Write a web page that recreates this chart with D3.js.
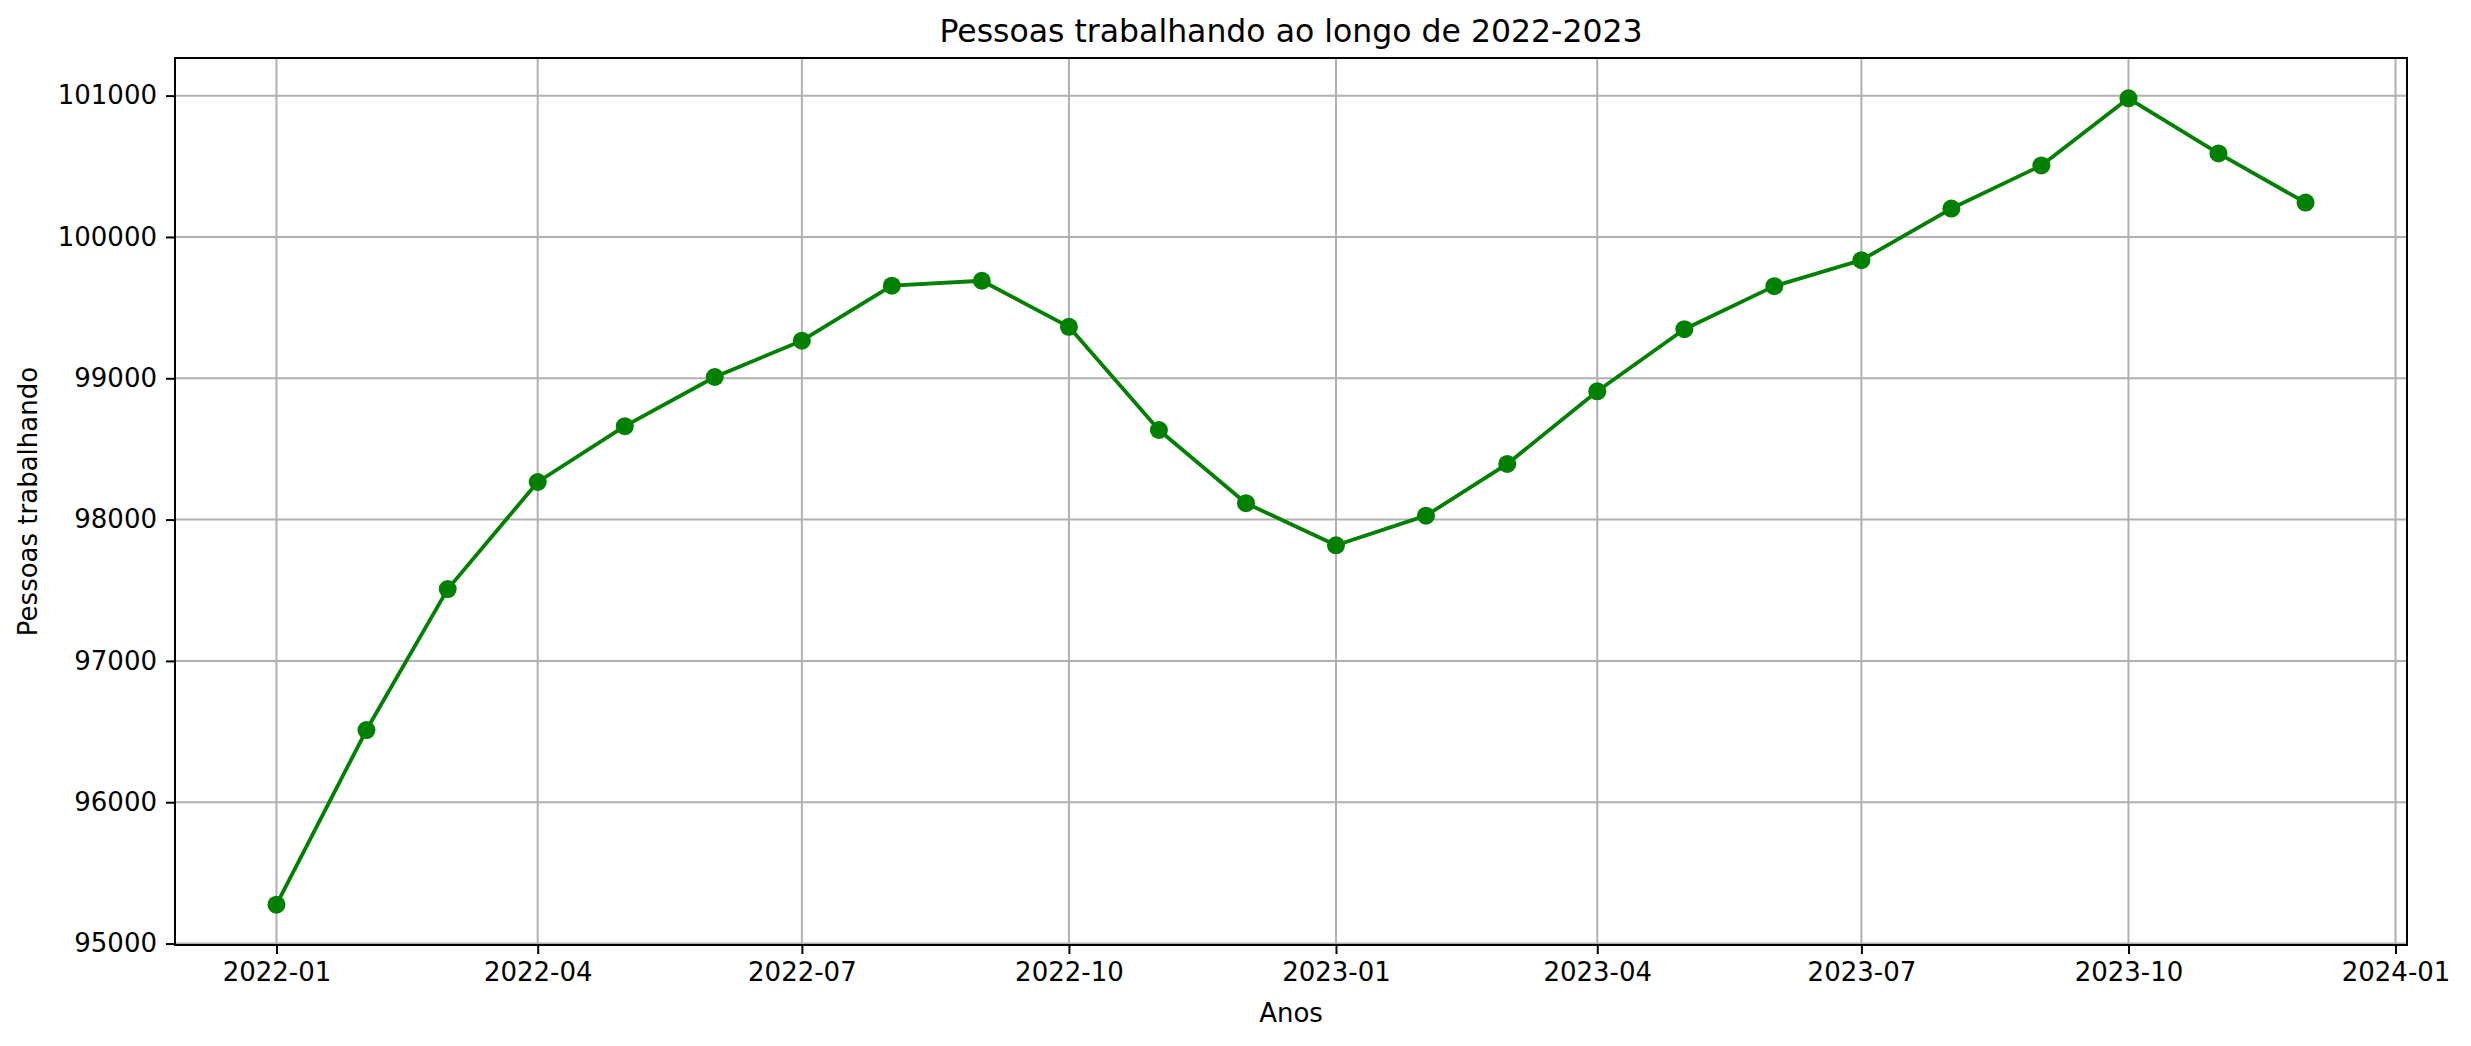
<!DOCTYPE html>
<meta charset="utf-8">
<html>
    <head>
        <style type="text/css">
            body { margin:0; background:#fff; }
            svg { display:block; }
            text { font-family: "DejaVu Sans", sans-serif; fill: #000; }
        </style>
        <script src="https://d3js.org/d3.v7.min.js"></script>
    </head>
    <body>
        <svg></svg>
        <script type="text/javascript">
            var months = ["2022-01", "2022-02", "2022-03", "2022-04", "2022-05", "2022-06",
                          "2022-07", "2022-08", "2022-09", "2022-10", "2022-11", "2022-12",
                          "2023-01", "2023-02", "2023-03", "2023-04", "2023-05", "2023-06",
                          "2023-07", "2023-08", "2023-09", "2023-10", "2023-11", "2023-12"];
            var workers = [95275, 96511, 97508, 98266, 98661, 99009,
                           99266, 99655, 99690, 99364, 98634, 98116,
                           97818, 98028, 98394, 98908, 99347, 99652,
                           99836, 100201, 100506, 100981, 100591, 100243];
            var xTicks = ["2022-01", "2022-04", "2022-07", "2022-10", "2023-01",
                          "2023-04", "2023-07", "2023-10", "2024-01"];
            var yTicks = [95000, 96000, 97000, 98000, 99000, 100000, 101000];

            var titleText = "Pessoas trabalhando ao longo de 2022-2023";
            var xLabel = "Anos";
            var yLabel = "Pessoas trabalhando";

            var width = 2471;
            var height = 1046;
            var margin = {top: 58, bottom: 101, left: 175, right: 64};

            var parseMonth = d3.timeParse("%Y-%m");
            var data = months.map((m, i) => ({date: parseMonth(m), value: workers[i]}));

            // matplotlib style 5% margins around the data
            var xExt = d3.extent(data, d => d.date);
            var xPad = (xExt[1] - xExt[0]) * 0.05;
            var yExt = d3.extent(data, d => d.value);
            var yPad = (yExt[1] - yExt[0]) * 0.05;

            var xScale = d3.scaleTime()
                .domain([new Date(+xExt[0] - xPad), new Date(+xExt[1] + xPad)])
                .range([margin.left, width - margin.right]);

            var yScale = d3.scaleLinear()
                .domain([yExt[0] - yPad, yExt[1] + yPad])
                .range([height - margin.bottom, margin.top]);

            var svg = d3.select("svg")
                .attr("width", width)
                .attr("height", height);

            // grid
            svg.append("g")
                .selectAll("line")
                .data(xTicks)
                .enter().append("line")
                .attr("x1", d => xScale(parseMonth(d)))
                .attr("x2", d => xScale(parseMonth(d)))
                .attr("y1", margin.top)
                .attr("y2", height - margin.bottom)
                .attr("stroke", "#b0b0b0")
                .attr("stroke-width", 2);

            svg.append("g")
                .selectAll("line")
                .data(yTicks)
                .enter().append("line")
                .attr("x1", margin.left)
                .attr("x2", width - margin.right)
                .attr("y1", d => yScale(d))
                .attr("y2", d => yScale(d))
                .attr("stroke", "#b0b0b0")
                .attr("stroke-width", 2);

            var line = d3.line()
                .x(d => xScale(d.date))
                .y(d => yScale(d.value));

            svg.append("path")
                .datum(data)
                .attr("d", line)
                .attr("fill", "none")
                .attr("stroke", "#008000")
                .attr("stroke-width", 3.8)
                .attr("stroke-linejoin", "round");

            svg.selectAll("circle")
                .data(data)
                .enter().append("circle")
                .attr("cx", d => xScale(d.date))
                .attr("cy", d => yScale(d.value))
                .attr("r", 9)
                .attr("fill", "#008000");

            var xAxis = d3.axisBottom(xScale)
                .tickValues(xTicks.map(parseMonth))
                .tickFormat(d3.timeFormat("%Y-%m"))
                .tickSize(9)
                .tickPadding(9)
                .tickSizeOuter(0);

            var yAxis = d3.axisLeft(yScale)
                .tickValues(yTicks)
                .tickFormat(d3.format("d"))
                .tickSize(9)
                .tickPadding(9)
                .tickSizeOuter(0);

            var gx = svg.append("g")
                .attr("transform", "translate(" + [0, height - margin.bottom] + ")")
                .call(xAxis);

            var gy = svg.append("g")
                .attr("transform", "translate(" + [margin.left, 0] + ")")
                .call(yAxis);

            [gx, gy].forEach(g => {
                g.select(".domain").remove();
                g.selectAll(".tick line").attr("stroke", "#000").attr("stroke-width", 2);
                g.selectAll(".tick text")
                    .attr("fill", "#000")
                    .style("font-size", "26px")
                    .style("font-family", "DejaVu Sans");
            });

            // frame
            svg.append("rect")
                .attr("x", margin.left)
                .attr("y", margin.top)
                .attr("width", width - margin.left - margin.right)
                .attr("height", height - margin.top - margin.bottom)
                .attr("fill", "none")
                .attr("stroke", "#000")
                .attr("stroke-width", 2);

            svg.append("text")
                .attr("x", (margin.left + width - margin.right) / 2)
                .attr("y", margin.top - 16)
                .style("text-anchor", "middle")
                .style("font-size", "31.5px")
                .text(titleText);

            svg.append("text")
                .attr("x", (margin.left + width - margin.right) / 2)
                .attr("y", 1022)
                .style("text-anchor", "middle")
                .style("font-size", "26px")
                .text(xLabel);

            svg.append("text")
                .attr("transform", "translate(" + [37, (margin.top + height - margin.bottom) / 2] + ") rotate(-90)")
                .style("text-anchor", "middle")
                .style("font-size", "26px")
                .text(yLabel);
        </script>
    </body>
</html>
